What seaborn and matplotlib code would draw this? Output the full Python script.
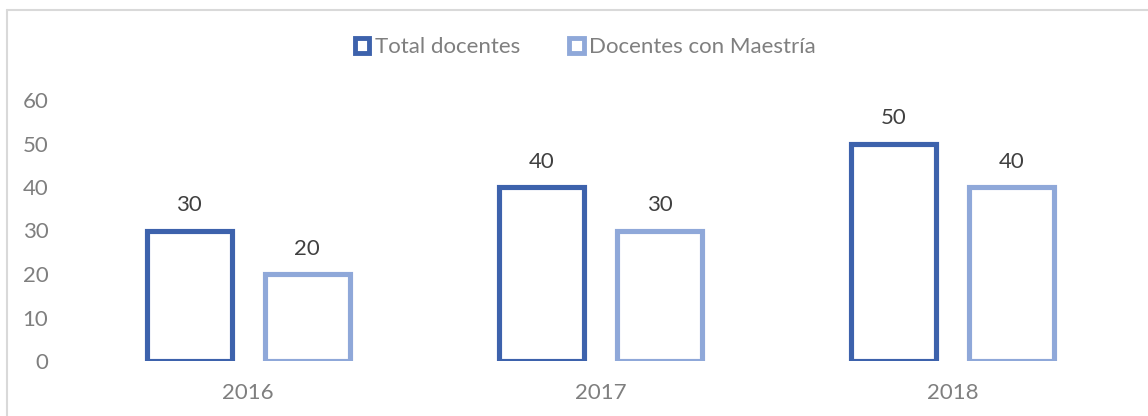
import pandas as pd
import matplotlib.pyplot as plt
import seaborn as sns
from matplotlib.patches import Patch
from matplotlib.lines import Line2D

# --- DATA ---
years = ["2016", "2017", "2018"]
total_docentes = [30, 40, 50]
docentes_maestria = [20, 30, 40]
series_names = ["Total docentes", "Docentes con Maestría"]
colors = ["#3D62AC", "#8FA8D9"]
y_ticks = [0, 10, 20, 30, 40, 50, 60]

df = pd.DataFrame({
    "Año": years * 2,
    "Valor": total_docentes + docentes_maestria,
    "Serie": [series_names[0]] * 3 + [series_names[1]] * 3,
})

sns.set_theme(style="white")
plt.rcParams["font.family"] = ["Lato", "DejaVu Sans"]

fig = plt.figure(figsize=(11.48, 4.16), dpi=100)
ax = fig.add_axes([72 / 1148, 1 - 361 / 416, (1129 - 72) / 1148, 261 / 416])

sns.barplot(data=df, x="Año", y="Valor", hue="Serie", palette=colors,
            width=0.67, gap=0.28, fill=False, linewidth=3.7, ax=ax,
            legend=False)

# data labels
for container in ax.containers:
    ax.bar_label(container, padding=11, fontsize=16, color="#404040")

ax.set_ylim(0, 60)
ax.set_xlim(-0.5, 2.5)
ax.set_yticks(y_ticks)
ax.set_xlabel("")
ax.set_ylabel("")
ax.tick_params(axis="both", labelsize=16, colors="#7F7F7F", length=0)
ax.tick_params(axis="y", pad=17)
ax.tick_params(axis="x", pad=16)
sns.despine(ax=ax, left=True, bottom=True)

# legend with hollow squares
handles = [Patch(facecolor="white", edgecolor=c, linewidth=3.5) for c in colors]
fig.legend(handles, series_names, loc="center", bbox_to_anchor=(0.51, 1 - 47 / 416),
           ncol=2, frameon=False, fontsize=16, handlelength=0.65, handleheight=0.65,
           handletextpad=0.25, columnspacing=2.2, labelcolor="#7F7F7F")

# chart frame (top and left edges visible)
fig.add_artist(Line2D([7 / 1148, 7 / 1148], [0, 1 - 10 / 416], color="#D9D9D9", lw=1.5))
fig.add_artist(Line2D([7 / 1148, 1], [1 - 10 / 416, 1 - 10 / 416], color="#D9D9D9", lw=1.5))

fig.savefig("out.png", dpi=100)
